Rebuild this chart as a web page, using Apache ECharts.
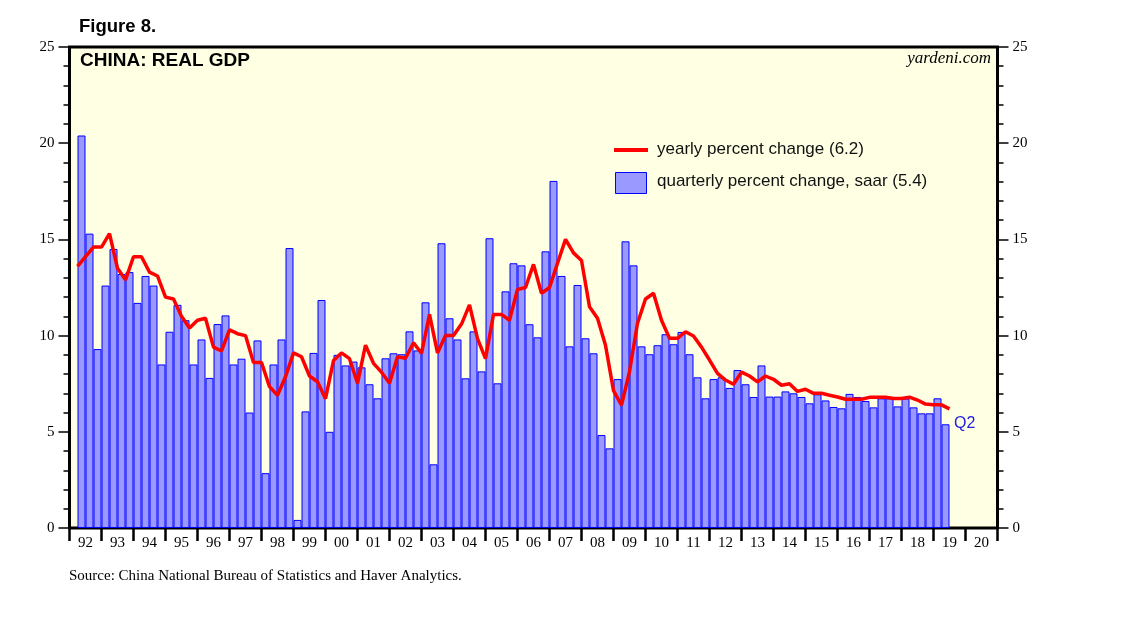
<!DOCTYPE html>
<html>
<head>
<meta charset="utf-8">
<script src="https://cdn.jsdelivr.net/npm/echarts@6/dist/echarts.min.js"></script>
<style>
html,body{margin:0;padding:0;background:#fff;}
#chart{width:1138px;height:621px;}
</style>
</head>
<body>
<div id="chart"></div>
<script>
// Tick labels for the x axis (one per year, 1992..2020)
var yearLabels = ['92','93','94','95','96','97','98','99','00','01','02','03','04','05','06','07','08','09','10','11','12','13','14','15','16','17','18','19','20'];

// Quarterly categories 1992Q1 .. 2020Q4
var quarters = [];
for (var y = 0; y < yearLabels.length; y++) {
  for (var q = 1; q <= 4; q++) quarters.push(yearLabels[y] + 'Q' + q);
}

// Quarterly percent change, saar (1992Q1 .. 2019Q2)
var quarterlySaar = [
  null, 20.4, 15.3, 9.3,
  12.6, 14.5, 13.2, 13.3,
  11.7, 13.1, 12.6, 8.5,
  10.2, 11.6, 10.8, 8.5,
  9.8, 7.8, 10.6, 11.05,
  8.5, 8.8, 6.0, 9.75,
  2.85, 8.5, 9.8, 14.55,
  0.42, 6.06, 9.1, 11.85,
  5.0, 9.0, 8.45, 8.65,
  8.35, 7.47, 6.74, 8.82,
  9.08, 9.03, 10.22, 9.23,
  11.73, 3.31, 14.8, 10.9,
  9.8, 7.78, 10.22, 8.14,
  15.06, 7.52, 12.3, 13.76,
  13.65, 10.59, 9.91, 14.38,
  18.04, 13.1, 9.44, 12.63,
  9.86, 9.08, 4.83, 4.14,
  7.74, 14.9, 13.65, 9.44,
  9.03, 9.5, 10.07, 9.55,
  10.19, 9.03, 7.83, 6.74,
  7.74, 7.83, 7.28, 8.21,
  7.47, 6.81, 8.45, 6.83,
  6.83, 7.1, 7.0, 6.81,
  6.48, 6.95, 6.63, 6.29,
  6.22, 6.97, 6.81, 6.6,
  6.27, 6.74, 6.74, 6.32,
  6.73, 6.27, 5.96, 5.96,
  6.74, 5.39
];

// Yearly percent change (1992Q1 .. 2019Q2), plotted at each quarter's end
var yearlyChange = [
  13.6, 14.1, 14.6, 14.6,
  15.3, 13.5, 12.9, 14.1,
  14.1, 13.3, 13.1, 12.0,
  11.9, 11.0, 10.4, 10.8,
  10.9, 9.4, 9.2, 10.3,
  10.1, 10.0, 8.6, 8.6,
  7.35, 6.9, 7.86, 9.1,
  8.9, 7.9, 7.6, 6.72,
  8.7, 9.1, 8.8, 7.52,
  9.5, 8.56, 8.1, 7.52,
  8.9, 8.82, 9.63, 9.08,
  11.1, 9.1, 10.0, 10.0,
  10.6, 11.6, 9.84, 8.8,
  11.1, 11.1, 10.8, 12.4,
  12.5, 13.7, 12.2, 12.5,
  13.76, 15.0, 14.3, 13.9,
  11.5, 10.9, 9.5, 7.14,
  6.39, 8.13, 10.64, 11.9,
  12.2, 10.8, 9.86, 9.86,
  10.2, 9.98, 9.4, 8.73,
  8.04, 7.69, 7.47, 8.1,
  7.9, 7.59, 7.9, 7.73,
  7.42, 7.5, 7.1, 7.21,
  7.0, 7.0, 6.9, 6.81,
  6.69, 6.69, 6.69, 6.79,
  6.8, 6.8, 6.73, 6.73,
  6.8, 6.65, 6.44, 6.4,
  6.4, 6.19
];

var yTicks = [0, 5, 10, 15, 20, 25];
var legendNames = ['yearly percent change (6.2)', 'quarterly percent change, saar (5.4)'];

// Quarter boundaries (117 positions) used for the line and the visible axis
var boundaries = [];
for (var i = 0; i <= quarters.length; i++) {
  var yi = Math.min(Math.floor(i / 4), yearLabels.length - 1);
  boundaries.push(yearLabels[yi]);
}
var lineData = [null].concat(yearlyChange);

var chart = echarts.init(document.getElementById('chart'));
var serif = 'Liberation Serif';
var sans = 'Liberation Sans';
var plotWidth = 928;

var yAxisCommon = {
  type: 'value', min: yTicks[0], max: yTicks[yTicks.length - 1], interval: 5,
  axisLine: { show: false },
  axisTick: { show: true, length: 11, lineStyle: { color: '#000', width: 1.5 } },
  minorTick: { show: true, splitNumber: 5, length: 6, lineStyle: { color: '#000', width: 1.5 } },
  splitLine: { show: false },
  axisLabel: { fontFamily: serif, fontSize: 15, color: '#000', margin: 15 }
};

chart.setOption({
  animation: false,
  grid: {
    left: 69.5, top: 47, width: plotWidth, height: 481,
    show: true, backgroundColor: '#FFFFE4', borderColor: '#000', borderWidth: 3
  },
  xAxis: [
    {
      type: 'category', data: quarters, boundaryGap: true, show: false
    },
    {
      type: 'category', data: boundaries, boundaryGap: false, position: 'bottom',
      axisLine: { show: false },
      axisTick: {
        show: true, length: 13, lineStyle: { color: '#000', width: 2.5 },
        interval: function (idx) { return idx % 4 === 0; }
      },
      axisLabel: {
        fontFamily: serif, fontSize: 15, color: '#000', margin: 8,
        interval: function (idx) { return idx % 4 === 2; }
      },
      splitLine: { show: false }
    }
  ],
  yAxis: [
    Object.assign({ position: 'left' }, yAxisCommon),
    Object.assign({ position: 'right' }, yAxisCommon)
  ],
  series: [
    {
      name: legendNames[1],
      type: 'bar', xAxisIndex: 0, yAxisIndex: 0,
      data: quarterlySaar,
      barWidth: plotWidth / quarters.length, barGap: '0%',
      itemStyle: { color: '#9999FF', borderColor: '#0000FF', borderWidth: 1 }
    },
    {
      name: legendNames[0],
      type: 'line', xAxisIndex: 1, yAxisIndex: 0,
      data: lineData, showSymbol: false, symbol: 'none',
      lineStyle: { color: '#FF0000', width: 3.5 },
      itemStyle: { color: '#FF0000' },
      z: 5
    }
  ],
  graphic: [
    { type: 'text', left: 79, top: 17, style: { text: 'Figure 8.', fontFamily: sans, fontWeight: 'bold', fontSize: 18.5, fill: '#000' } },
    { type: 'text', left: 80, top: 51, style: { text: 'CHINA: REAL GDP', fontFamily: sans, fontWeight: 'bold', fontSize: 19, fill: '#000' } },
    { type: 'text', right: 1138 - 991, top: 50, style: { text: 'yardeni.com', fontFamily: serif, fontStyle: 'italic', fontSize: 17, fill: '#000' } },
    { type: 'text', left: 954, top: 416, style: { text: 'Q2', fontFamily: sans, fontSize: 16, fill: '#2020E0' } },
    { type: 'text', left: 69, top: 569, style: { text: 'Source: China National Bureau of Statistics and Haver Analytics.', fontFamily: serif, fontSize: 15, fill: '#000' } },
    // legend
    { type: 'line', z: 10, shape: { x1: 614, y1: 150, x2: 648, y2: 150 }, style: { stroke: '#FF0000', lineWidth: 4 } },
    { type: 'text', z: 10, left: 657, top: 141, style: { text: legendNames[0], fontFamily: sans, fontSize: 17, fill: '#111' } },
    { type: 'rect', z: 10, shape: { x: 615.5, y: 172.5, width: 31, height: 21 }, style: { fill: '#9999FF', stroke: '#0000FF', lineWidth: 1 } },
    { type: 'text', z: 10, left: 657, top: 173, style: { text: legendNames[1], fontFamily: sans, fontSize: 17, fill: '#111' } }
  ]
});
</script>
</body>
</html>
